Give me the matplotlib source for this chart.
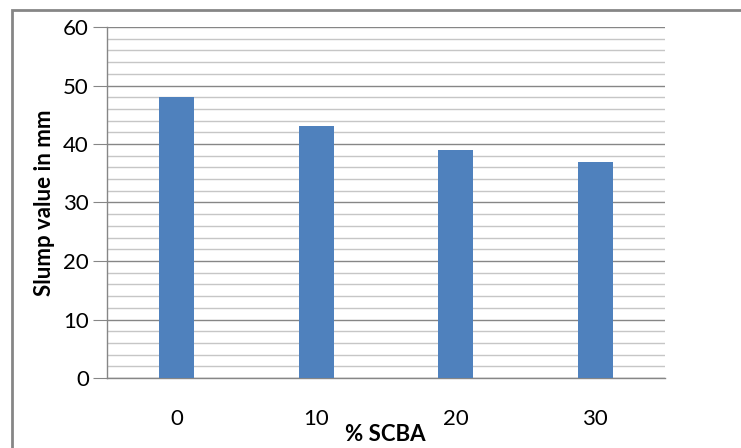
import matplotlib
matplotlib.use("Agg")
import matplotlib.pyplot as plt
from matplotlib.patches import Rectangle
import numpy as np

categories = ["0", "10", "20", "30"]
values = [48, 43, 39, 37]
y_ticks = [0, 10, 20, 30, 40, 50, 60]

plt.rcParams['font.family'] = ['Lato', 'DejaVu Sans']

W, H = 741, 448
fig = plt.figure(figsize=(W / 100, H / 100), dpi=100)
ax = fig.add_axes([107 / W, 1 - 378 / H, (665 - 107) / W, (378 - 27) / H])

x = np.arange(len(categories))
ax.bar(x, values, width=0.25, color="#4f81bd", zorder=3)
ax.set_xlim(-0.5, len(categories) - 0.5)
ax.set_ylim(0, 60)

ax.set_yticks(y_ticks)
ax.set_yticks(np.arange(0, 61, 2), minor=True)
ax.grid(axis='y', which='major', color="#868686", linewidth=1.0, zorder=0)
ax.grid(axis='y', which='minor', color="#c6c6c6", linewidth=1.0, zorder=0)
ax.tick_params(axis='y', which='major', length=10, color="#868686", labelsize=16, pad=3)
ax.tick_params(axis='y', which='minor', length=0)

ax.set_xticks(x)
ax.set_xticklabels(categories)
ax.tick_params(axis='x', length=0, labelsize=16, pad=22)

for s in ['top', 'right']:
    ax.spines[s].set_visible(False)
for s in ['left', 'bottom']:
    ax.spines[s].set_color("#868686")
    ax.spines[s].set_linewidth(1.0)

ax.set_ylabel("Slump value in mm", fontsize=16, fontweight='bold', labelpad=6)
fig.text(385 / W, 1 - 434 / H, "% SCBA", ha='center', va='center', fontsize=16, fontweight='bold')

border = Rectangle((12 / W, -0.1), 1.2, 1 - 10 / H + 0.1, transform=fig.transFigure,
                   fill=False, edgecolor="#868686", linewidth=2)
fig.patches.append(border)

fig.savefig("out.png", dpi=100)
